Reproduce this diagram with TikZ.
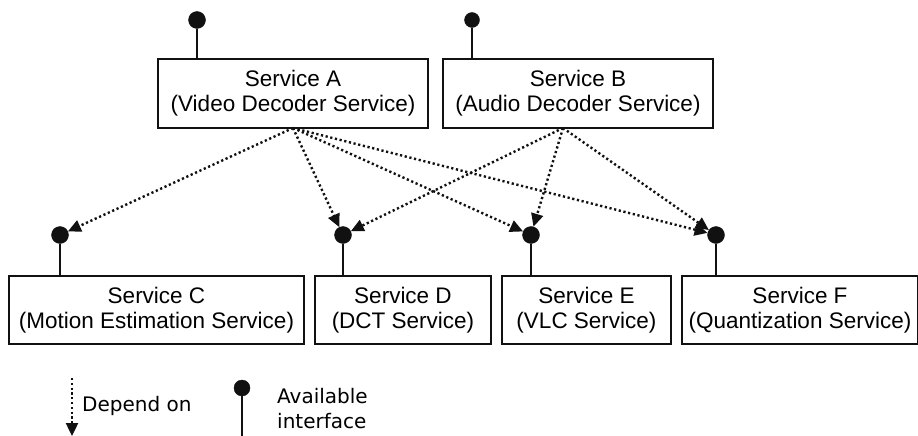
\documentclass[tikz,border=0pt]{standalone}
\usepackage{fontspec}
\setmainfont{Liberation Sans}
\newfontfamily\legendfont{DejaVu Sans}
\usetikzlibrary{arrows.meta}
\definecolor{ink}{HTML}{111111}
\tikzset{
  svcbox/.style={draw=ink, line width=1.3pt, rectangle, align=center,
    font=\fontsize{22.5}{25}\selectfont, inner sep=0pt},
  iface/.style={circle, fill=ink, draw=ink, minimum size=17pt, inner sep=0pt},
  stem/.style={draw=ink, line width=1.3pt},
  dep/.style={draw=ink, line width=2.4pt, dash pattern=on 2.2pt off 2.6pt,
    -{Triangle[length=13pt,width=12pt,fill=ink]}},
  legendtext/.style={font=\legendfont\fontsize{20}{25}\selectfont, inner sep=0pt, align=left}
}
\begin{document}
\begin{tikzpicture}[x=1pt,y=-1pt]
\useasboundingbox (0,0) rectangle (918,436);
\fill[white] (0,0) rectangle (918,436);

% upper services
\node[svcbox, minimum width=270pt, minimum height=69pt] (A) at (293,93.5)
  {Service A\\(Video Decoder Service)};
\node[svcbox, minimum width=270pt, minimum height=69pt] (B) at (578,93.5)
  {Service B\\(Audio Decoder Service)};

% lower services
\node[svcbox, minimum width=295pt, minimum height=68pt] (C) at (156.5,310)
  {Service C\\(Motion Estimation Service)};
\node[svcbox, minimum width=176pt, minimum height=68pt] (D) at (403,310)
  {Service D\\(DCT Service)};
\node[svcbox, minimum width=169pt, minimum height=68pt] (E) at (586.5,310)
  {Service E\\(VLC Service)};
\node[svcbox, minimum width=236pt, minimum height=68pt] (F) at (800,310)
  {Service F\\(Quantization Service)};

% available interfaces
\node[iface] (iA) at (197,20) {};
\node[iface, minimum size=15pt] (iB) at (472,20) {};
\node[iface] (iC) at (60,235) {};
\node[iface] (iD) at (343,235) {};
\node[iface] (iE) at (531,235) {};
\node[iface] (iF) at (716,235) {};

\foreach \i/\s in {iA/A, iB/B, iC/C, iD/D, iE/E, iF/F}
  \draw[stem] (\i.south) -- (\i.south |- \s.north);

% dependency sources
\coordinate (sA) at (293,128);
\coordinate (sB) at (563,128);

\draw[dep] (sA) -- (iC);
\draw[dep] (sA) -- (iD);
\draw[dep] (sA) -- (iE);
\draw[dep] (sA) -- (iF);
\draw[dep] (sB) -- (iD);
\draw[dep] (sB) -- (iE);
\draw[dep] (sB) -- (iF);

% legend
\coordinate (ldTop) at (72,378);
\coordinate (ldBot) at (72,436);
\draw[dep] (ldTop) -- (ldBot);
\node[legendtext, anchor=west] (ldText) at (82,406) {Depend on};

\node[iface, minimum size=16pt] (liF) at (242,388) {};
\coordinate (liBot) at (242,436);
\draw[stem] (liF.south) -- (liBot);
\node[legendtext, anchor=west] (liText) at (277,409) {Available\\interface};
\end{tikzpicture}
\end{document}
